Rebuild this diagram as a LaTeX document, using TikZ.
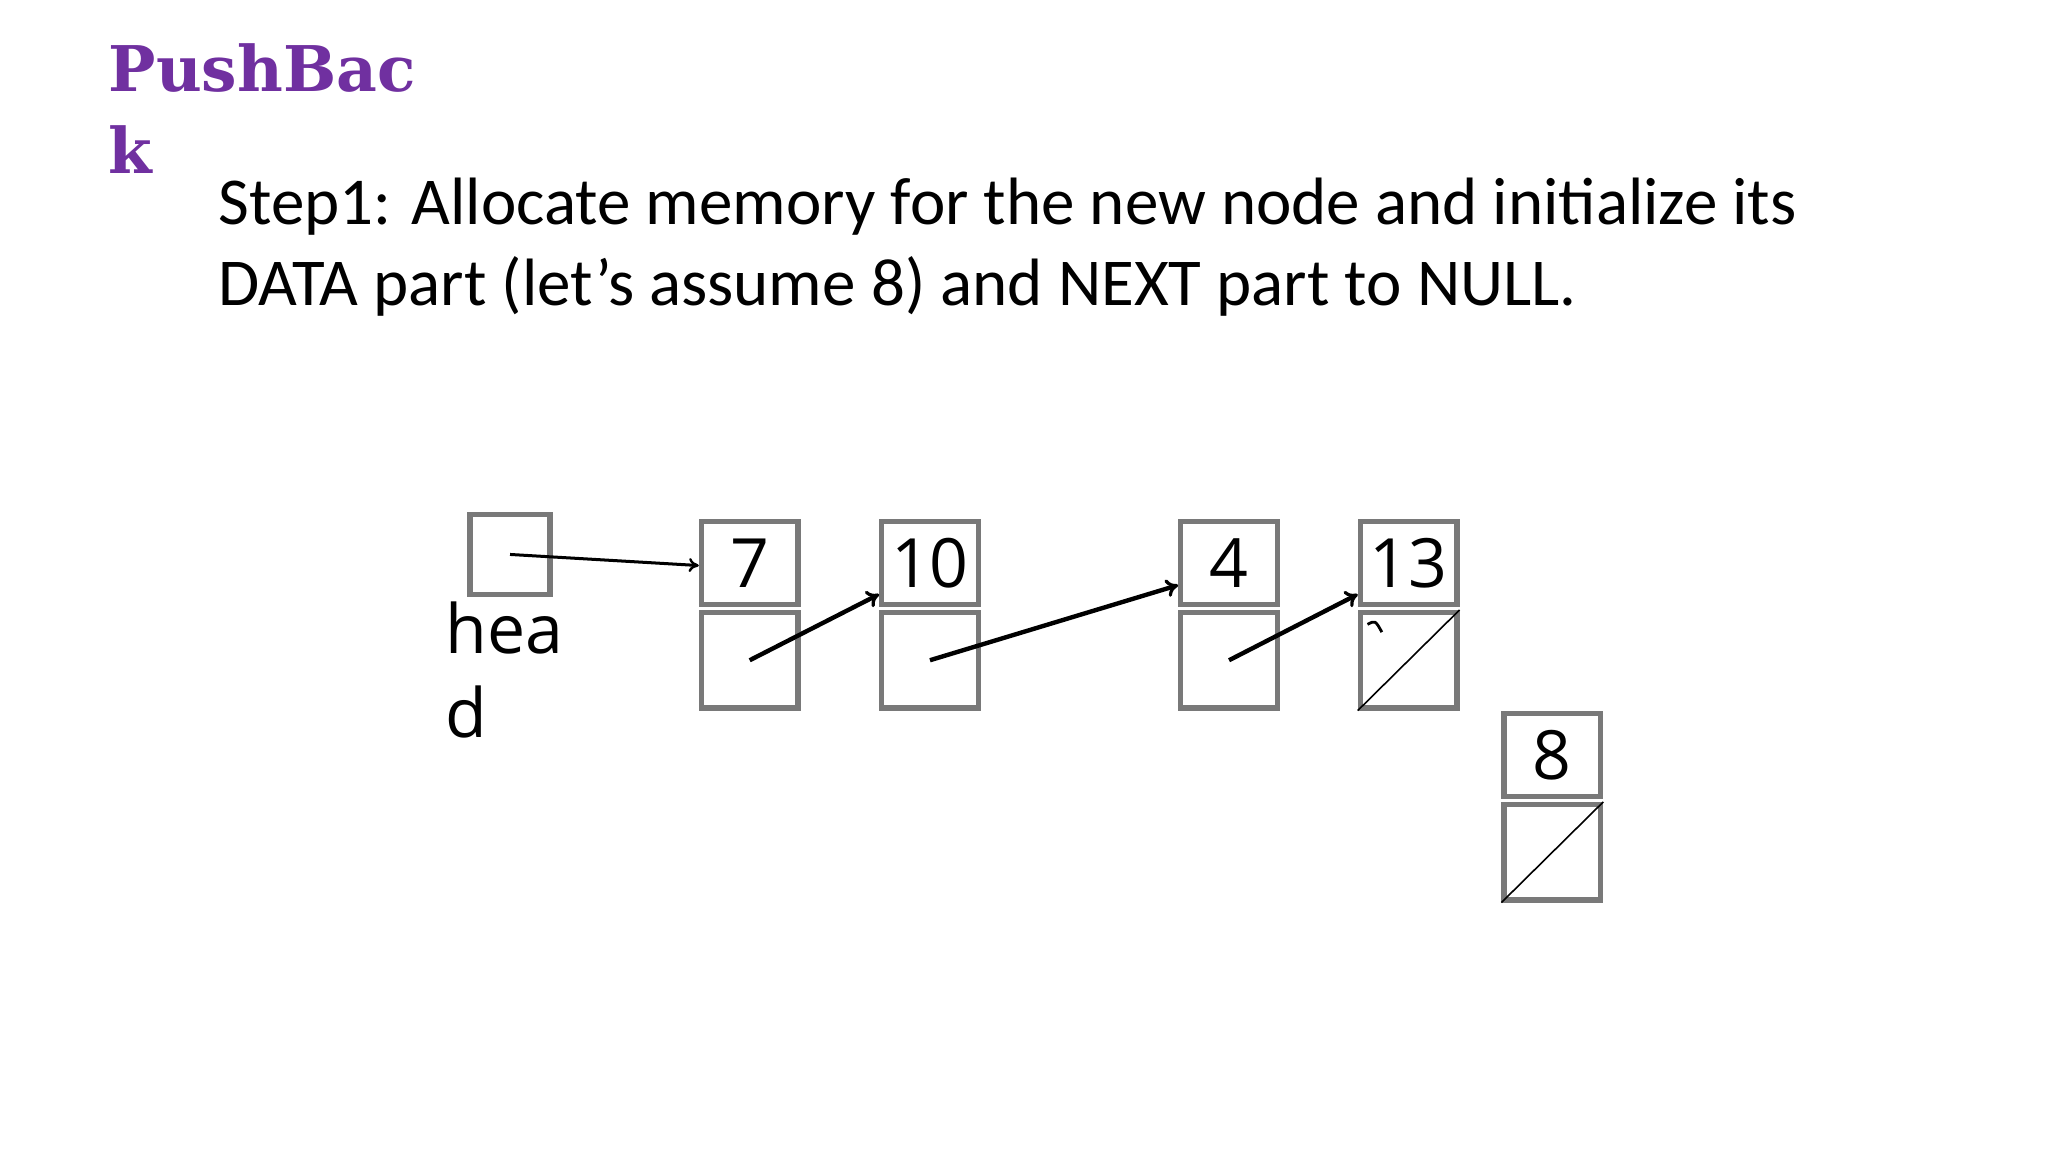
\documentclass[tikz,border=0pt]{standalone}
\usepackage{fontspec}
\setmainfont{Carlito}
\newfontfamily\titlefont{DejaVu Serif}
\newfontfamily\numfont{Open Sans}
\usetikzlibrary{arrows.meta,calc}
\definecolor{ttl}{HTML}{7030A0}
\begin{document}
\begin{tikzpicture}[x=0.653pt,y=-0.653pt,
  dat/.style={draw=gray!95!black,line width=2.6pt,rectangle,inner sep=0,minimum width=48.3pt,minimum height=41.8pt,font=\numfont\fontsize{34}{38}\selectfont},
  nxt/.style={draw=gray!95!black,line width=2.6pt,rectangle,inner sep=0,minimum width=48.3pt,minimum height=47.7pt},
  ptr/.style={line width=2.2pt,-{To[length=6pt,width=9pt,line width=1.6pt]}}]
\path[use as bounding box,fill=white] (0,0) rectangle (1568,882);
\node[anchor=base west,text=ttl,font=\titlefont\bfseries\fontsize{31.5}{36}\selectfont,inner sep=0] (t1) at (83,70) {PushBac};
\node[anchor=base west,text=ttl,font=\titlefont\bfseries\fontsize{31.5}{36}\selectfont,inner sep=0] (t2) at (83,133) {k};
\node[anchor=base west,font=\fontsize{33.5}{40}\selectfont,inner sep=0] (s1) at (167,172) {Step1: Allocate memory for the new node and initialize its};
\node[anchor=base west,font=\fontsize{33.5}{40}\selectfont,inner sep=0] (s2) at (167,234) {DATA part (let’s assume 8) and NEXT part to NULL.};
\node[draw=gray!95!black,line width=2.6pt,inner sep=0,minimum size=40pt] (head) at (390.5,424.5) {};
\node[anchor=base west,font=\numfont\fontsize{34}{38}\selectfont,inner sep=0] (h1) at (341,500) {hea};
\node[anchor=base west,font=\numfont\fontsize{34}{38}\selectfont,inner sep=0] (h2) at (341,565) {d};
\foreach \n/\x/\y in {7/574/397,10/712/397,4/941/397,13/1078.5/397,8/1188.5/544}{
  \node[dat] (d\n) at (\x,\y+34) {\raisebox{-2pt}{\n}};
  \node[nxt] (n\n) at (\x,\y+108.5) {};
}
\draw[line width=0.8pt] (n13.south west) -- (n13.north east);
\draw[line width=0.8pt] (n8.south west) -- (n8.north east);
\draw[line width=1.5pt,-{To[length=5pt,width=7pt,line width=1.2pt]}] (head.center) -- ($(d7.west)+(0,2)$);
\draw[ptr] (n7.center) -- ($(d10.south west)+(0,-10)$);
\draw[ptr] (n10.center) -- ($(d4.south west)+(0,-17)$);
\draw[ptr] (n4.center) -- ($(d13.south west)+(0,-10)$);
\draw[line width=1.4pt] (1047,478) .. controls (1053,475) .. (1058,484);
\end{tikzpicture}
\end{document}
